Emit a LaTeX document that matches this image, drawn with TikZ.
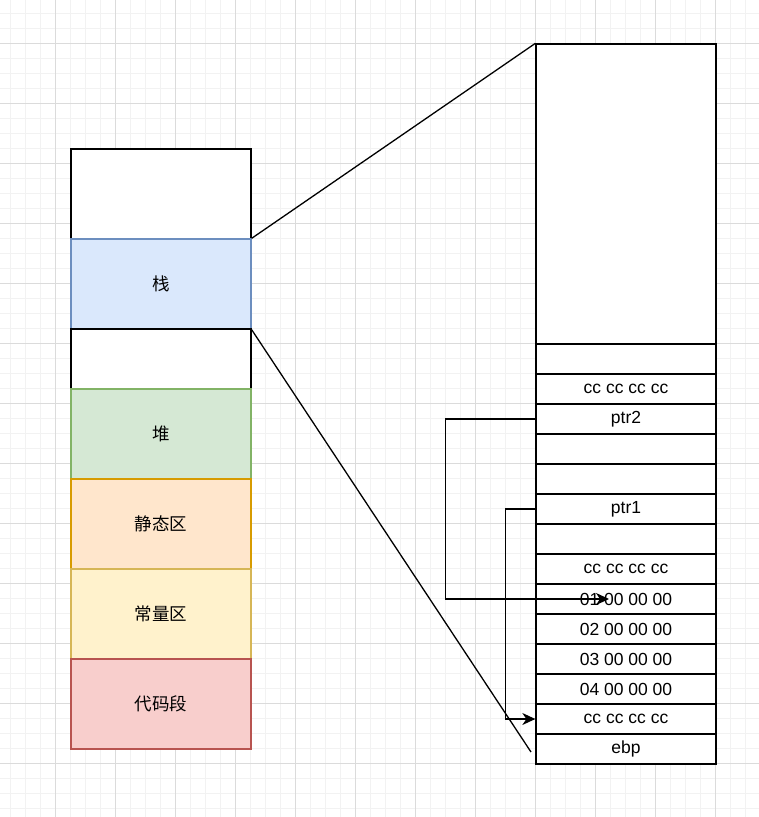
\documentclass[tikz,border=0pt]{standalone}
\usepackage{fontspec}
\setmainfont{Liberation Sans}
\newfontfamily\cjk{Noto Sans CJK SC}
\usetikzlibrary{arrows.meta}
\definecolor{gminor}{HTML}{F2F2F2}
\definecolor{gmajor}{HTML}{DBDBDB}
\definecolor{bluef}{HTML}{DAE8FC}\definecolor{blued}{HTML}{6C8EBF}
\definecolor{greenf}{HTML}{D5E8D4}\definecolor{greend}{HTML}{82B366}
\definecolor{orangef}{HTML}{FFE6CC}\definecolor{oranged}{HTML}{D79B00}
\definecolor{yellowf}{HTML}{FFF2CC}\definecolor{yellowd}{HTML}{D6B656}
\definecolor{redf}{HTML}{F8CECC}\definecolor{redd}{HTML}{B85450}
\tikzset{
  cell/.style={draw=black, fill=white, line width=1.3pt, minimum width=180pt, minimum height=30pt, inner sep=0pt, font=\fontsize{17.5}{20}\selectfont},
  seg/.style={draw=black, fill=white, line width=1.3pt, minimum width=180pt, minimum height=90pt, inner sep=0pt, font=\cjk\fontsize{17.5}{20}\selectfont},
  conn/.style={draw=black, line width=1.3pt},
  arr/.style={conn, -{Stealth[length=13pt, width=12pt, inset=4pt]}}
}
\begin{document}
\begin{tikzpicture}[x=1pt,y=-1pt]
\useasboundingbox (0,0) rectangle (759,817);
\fill[white] (0,0) rectangle (759,817);
% grid
\foreach \x in {10,25,...,760} \draw[gminor, line width=1pt] (\x,0) -- (\x,817);
\foreach \y in {13,28,...,817} \draw[gminor, line width=1pt] (0,\y) -- (759,\y);
\foreach \x in {55,115,...,760} \draw[gmajor, line width=1pt] (\x,0) -- (\x,817);
\foreach \y in {43,103,...,817} \draw[gmajor, line width=1pt] (0,\y) -- (759,\y);
% left column
\node[seg] (top) at (161,194) {};
\node[seg, fill=bluef, draw=blued] (zhan) at (161,284) {栈};
\node[seg, minimum height=60pt] (gap) at (161,359) {};
\node[seg, fill=greenf, draw=greend] (dui) at (161,434) {堆};
\node[seg, fill=orangef, draw=oranged] (static) at (161,524) {静态区};
\node[seg, fill=yellowf, draw=yellowd] (const) at (161,614) {常量区};
\node[seg, fill=redf, draw=redd] (code) at (161,704) {代码段};
% right column
\node[cell, minimum height=300pt] (big) at (626,194) {};
\node[cell] (r1) at (626,359) {};
\node[cell] (r2) at (626,389) {cc cc cc cc};
\node[cell] (r3) at (626,419) {ptr2};
\node[cell] (r4) at (626,449) {};
\node[cell] (r5) at (626,479) {};
\node[cell] (r6) at (626,509) {ptr1};
\node[cell] (r7) at (626,539) {};
\node[cell] (r8) at (626,569) {cc cc cc cc};
\node[cell] (r9) at (626,599) {01 00 00 00};
\node[cell] (r10) at (626,629) {02 00 00 00};
\node[cell] (r11) at (626,659) {03 00 00 00};
\node[cell] (r12) at (626,689) {04 00 00 00};
\node[cell] (r13) at (626,719) {cc cc cc cc};
\node[cell] (r14) at (626,749) {ebp};
% connectors
\coordinate (lowend) at (531,752);
\coordinate (t2) at (609,599);
\draw[conn] (zhan.north east) -- (big.north west);
\draw[arr] (r3.west) -- ++(-90,0) |- (t2);
\draw[arr] (r6.west) -- ++(-30,0) |- (r13.west);
\draw[conn] (zhan.south east) -- (lowend);
\end{tikzpicture}
\end{document}
